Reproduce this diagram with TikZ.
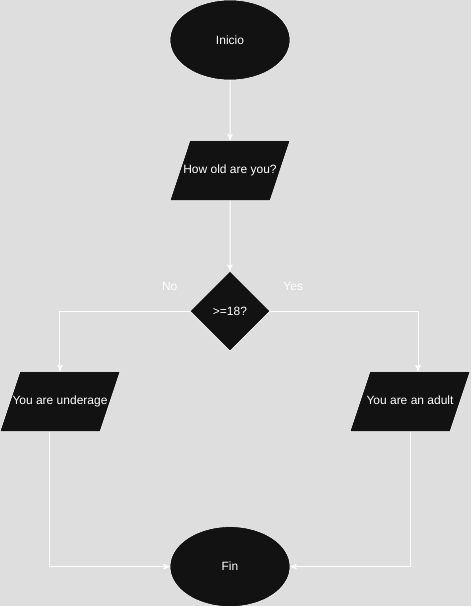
\documentclass[tikz,border=0pt]{standalone}
\usepackage{fontspec}
\setmainfont{Liberation Sans}
\usepackage{tikz}
\usetikzlibrary{positioning,shapes,arrows}
\definecolor{canvas}{HTML}{DEDEDE}
\definecolor{shapefill}{HTML}{121212}
\tikzstyle{terminal}=[ellipse, draw=white, fill=shapefill, text=white, minimum width=90pt,
        minimum height=60pt, inner sep=0pt, font=\fontsize{9}{11}\selectfont]
\tikzstyle{io}=[trapezium, trapezium left angle=71.6, trapezium right angle=108.4,
        trapezium stretches body, draw=white, fill=shapefill, text=white, minimum width=90pt,
        text height=7pt, text depth=2pt, inner xsep=-6pt, inner ysep=18pt, font=\fontsize{9}{11}\selectfont]
\tikzstyle{decision}=[diamond, draw=white, fill=shapefill, text=white, minimum width=60pt,
        minimum height=60pt, inner sep=0pt, font=\fontsize{9}{11}\selectfont]
\tikzstyle{branch}=[text=white, inner sep=0pt, font=\fontsize{9}{11}\selectfont]
\tikzstyle{myarrow}=[->, >=stealth', draw=white, line width=0.75pt]

\begin{document}
\begin{tikzpicture}

	\fill[canvas] (-172.5pt,30pt) rectangle (180.75pt,-424.5pt);
	\useasboundingbox (-172.5pt,30pt) rectangle (180.75pt,-424.5pt);

	\node (start) [terminal] at (0,0) {Inicio};
	\node (ask) [io, below=45pt of start] {How old are you?};
	\node (check) [decision, below=52.5pt of ask] {>=18?};

	\node (under) [io, below=15pt of check, xshift=-127.5pt] {You are underage};
	\node (adult) [io, below=15pt of check, xshift=135pt] {You are an adult};

	\node (stop) [terminal, below=131.25pt of check] {Fin};

	\node (lblNo) [branch] at ([xshift=-15pt,yshift=18.75pt]check.west) {No};
	\node (lblYes) [branch] at ([xshift=17.25pt,yshift=18.75pt]check.east) {Yes};

\draw[myarrow] (start) -- (ask);
\draw[myarrow] (ask) -- (check);

\draw[myarrow] (check.west) -| (under.north);
\draw[myarrow] (check.east) -| ([xshift=6pt]adult.north);

\draw[myarrow] ([xshift=-7.5pt]under.south) |- (stop.west);
\draw[myarrow] (adult.south) |- (stop.east);

\end{tikzpicture}
\end{document}
